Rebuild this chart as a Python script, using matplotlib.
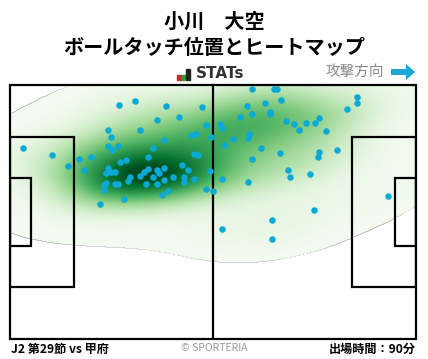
import numpy as np
import matplotlib
matplotlib.use('Agg')
import matplotlib.pyplot as plt
from matplotlib.patches import Rectangle, FancyArrow

plt.rcParams['font.family'] = ['Noto Sans CJK JP', 'DejaVu Sans']

title_player = '小川\u3000大空'
title_sub = 'ボールタッチ位置とヒートマップ'
match_label = 'J2 第29節 vs 甲府'
minutes_label = '出場時間：90分'
attack_label = '攻撃方向'

# touch positions, % of pitch length (attack to the right) / width (from bottom)
touch_x = [26.8, 30.8, 38.4, 47.3, 36.2, 41.6, 48.3, 51.7, 24.1, 32.0,
           24.9, 37.9, 44.6, 45.8, 49.5, 3.2, 10.3, 14.3, 17.0, 20.0,
           24.1, 25.1, 26.6, 35.2, 45.3, 46.3, 27.1, 28.6, 34.0, 18.2,
           24.1, 23.6, 24.9, 25.9, 33.0, 34.0, 36.2, 36.7, 37.9, 42.4,
           43.8, 49.3, 29.6, 29.1, 32.0, 35.2, 37.9, 40.1, 42.9, 42.9,
           45.3, 23.6, 23.2, 25.9, 26.6, 33.5, 36.2, 23.2, 38.9, 37.4,
           48.3, 50.0, 28.1, 22.2, 59.6, 65.0, 65.8, 85.5, 85.5, 58.4,
           62.8, 66.7, 59.6, 56.7, 64.0, 64.0, 83.0, 76.1, 68.0, 70.0,
           72.9, 75.1, 71.2, 77.8, 52.2, 58.9, 58.6, 54.9, 52.7, 61.8,
           66.5, 76.1, 75.9, 80.5, 59.6, 68.5, 69.0, 73.9, 52.2, 58.6,
           93.1, 74.9, 64.5, 52.2, 64.5]
touch_y = [92.1, 93.7, 91.7, 91.3, 86.2, 87.4, 84.3, 84.6, 82.3, 82.3,
           79.5, 78.3, 80.3, 80.7, 79.5, 75.2, 72.4, 68.1, 70.9, 71.7,
           76.0, 74.4, 76.0, 75.2, 72.8, 72.4, 69.7, 70.5, 71.7, 66.5,
           67.3, 65.4, 65.7, 65.7, 65.7, 66.9, 66.5, 65.4, 67.3, 68.5,
           66.5, 66.1, 63.8, 62.2, 64.2, 63.8, 62.6, 63.8, 63.8, 61.8,
           63.0, 61.4, 60.6, 61.0, 61.0, 61.0, 61.0, 58.7, 58.3, 56.7,
           59.1, 58.3, 55.1, 53.1, 98.4, 98.4, 98.4, 95.3, 92.9, 91.7,
           92.9, 94.1, 88.6, 87.4, 89.4, 88.6, 90.6, 87.0, 85.8, 84.6,
           85.0, 85.0, 82.3, 81.9, 83.1, 80.7, 79.1, 78.7, 76.4, 75.2,
           73.2, 73.6, 71.7, 74.4, 70.9, 66.5, 63.8, 65.0, 63.0, 61.8,
           56.3, 50.8, 46.9, 43.3, 39.4]

W, H = 428, 359
fig = plt.figure(figsize=(W / 100, H / 100), dpi=100)

def fx(x):
    return x / W

def fy(y):
    return 1 - y / H

ax = fig.add_axes([fx(10), fy(339), (416 - 10) / W, (339 - 85) / H])
ax.set_xlim(0, 100)
ax.set_ylim(0, 100)
ax.axis('off')

data = np.vstack([touch_x, touch_y])
n = data.shape[1]
gx = np.linspace(0, 100, 400)
gy = np.linspace(0, 100, 260)
GX, GY = np.meshgrid(gx, gy)

def kde(factor):
    cov = np.cov(data) * (factor * n ** (-1.0 / 6)) ** 2
    inv = np.linalg.inv(cov)
    d = np.zeros_like(GX)
    for x, y in zip(touch_x, touch_y):
        dx = GX - x
        dy = GY - y
        d += np.exp(-0.5 * (inv[0, 0] * dx * dx + 2 * inv[0, 1] * dx * dy + inv[1, 1] * dy * dy))
    return d / d.max()

wide = kde(1.6)    # sets the outline
narrow = kde(1.2)  # sets the shading
heat = np.ma.masked_where(wide < 0.03, np.maximum(narrow, 0.03))
ax.imshow(heat, extent=(0, 100, 0, 100), origin='lower', cmap='Greens',
          vmin=0, vmax=1, aspect='auto', interpolation='bilinear', zorder=1)

# pitch
lw = 1.6
ax.add_patch(Rectangle((0, 0), 100, 100, fill=False, lw=lw, ec='black', zorder=3, clip_on=False))
ax.plot([50, 50], [0, 100], color='black', lw=lw, zorder=3)
pb_l, pb_w = 15.7, 59.3
gb_l, gb_w = 5.2, 26.9
for x0 in (0, 100 - pb_l):
    ax.add_patch(Rectangle((x0, 50 - pb_w / 2), pb_l, pb_w, fill=False, lw=lw, ec='black', zorder=3))
for x0 in (0, 100 - gb_l):
    ax.add_patch(Rectangle((x0, 50 - gb_w / 2), gb_l, gb_w, fill=False, lw=lw, ec='black', zorder=3))

ax.scatter(touch_x, touch_y, s=22, color='#0aa9d6', lw=0, zorder=4)

# header
fig.text(fx(214), fy(21), title_player, ha='center', va='center', fontsize=14.5, fontweight='bold')
fig.text(fx(214), fy(47), title_sub, ha='center', va='center', fontsize=14.5, fontweight='bold')

bars = [('#d9262b', 5), ('#29a03a', 5), ('#222222', 11)]
for i, (c, h) in enumerate(bars):
    fig.patches.append(Rectangle((fx(177 + i * 4.6), fy(80)), 3.8 / W, h / H,
                                 transform=fig.transFigure, color=c))
fig.text(fx(196), fy(74), 'STATs', ha='left', va='center', fontsize=11,
         fontweight='bold', color='#333333', family='DejaVu Sans')

fig.text(fx(384), fy(72), attack_label, ha='right', va='center', fontsize=10.5, color='#888888')
fig.patches.append(FancyArrow(fx(391), fy(72), 24 / W, 0, width=6 / H, head_width=16 / H,
                              head_length=9 / W, length_includes_head=True,
                              transform=fig.transFigure, color='#1aa9d6', lw=0))

# footer
fig.text(fx(11), fy(349), match_label, ha='left', va='center', fontsize=8.7, fontweight='bold')
fig.text(fx(214), fy(348), '© SPORTERIA', ha='center', va='center', fontsize=7.5, color='#999999')
fig.text(fx(416), fy(349), minutes_label, ha='right', va='center', fontsize=8.7, fontweight='bold')

fig.savefig('out.png', dpi=100)
